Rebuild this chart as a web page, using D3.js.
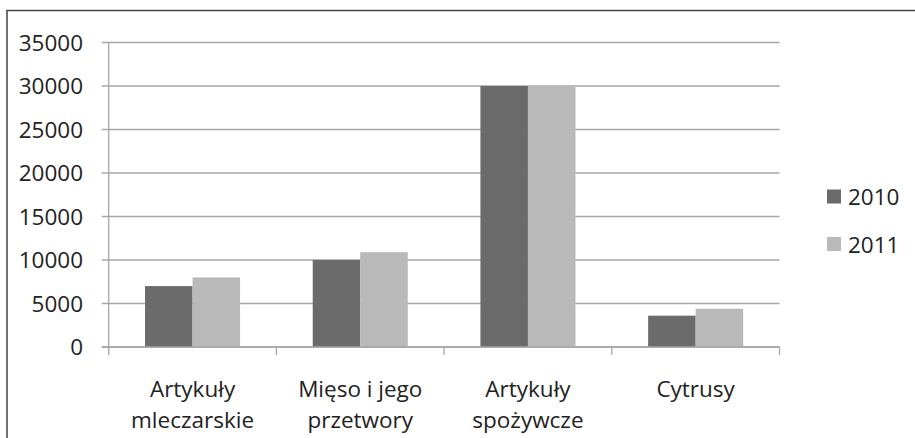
<!doctype html>
<meta charset=utf8>
<title>Artykuły 2010-2011</title>
<style>
  body { margin: 0; background: #fff; }
  svg { display: block; }
  text { font-family: "Open Sans", sans-serif; fill: #222; }
</style>
<svg width=915 height=438></svg>
<script src=https://d3js.org/d3.v7.min.js></script>
<script>
  // data
  var categories = [['Artykuły', 'mleczarskie'], ['Mięso i jego', 'przetwory'], ['Artykuły', 'spożywcze'], ['Cytrusy']];
  var years = ['2010', '2011'];
  var values2010 = [7000, 10000, 30000, 3600];
  var values2011 = [8000, 10900, 30000, 4400];
  var yTicks = [0, 5000, 10000, 15000, 20000, 25000, 30000, 35000];
  var colors = ['#6b6b6b', '#b9b9b9'];

  var svg = d3.select('svg');
  var plotLeft = 108.7, plotRight = 779.5, plotTop = 42.5, plotBottom = 347;
  var fontSize = '22.5px';

  // outer frame (right and bottom sides fall outside the picture)
  svg.append('rect')
    .attr('x', 7).attr('y', 10.5)
    .attr('width', 940).attr('height', 460)
    .attr('fill', 'none').attr('stroke', '#444').attr('stroke-width', 1.5);

  var idx = categories.map(function(d, i) { return i; });
  var x0 = d3.scaleBand().domain(idx).range([plotLeft, plotRight])
    .paddingInner(0.4333).paddingOuter(0.2167);
  var x1 = d3.scaleBand().domain(years).range([0, x0.bandwidth()]);
  var y = d3.scaleLinear().domain([0, 35000]).range([plotBottom, plotTop]);

  // gridlines + y labels
  var g = svg.append('g');
  g.selectAll('line.grid').data(yTicks).enter().append('line')
    .attr('x1', plotLeft - 7).attr('x2', plotRight)
    .attr('y1', function(d) { return y(d); }).attr('y2', function(d) { return y(d); })
    .attr('stroke', '#a6a6a6').attr('stroke-width', 1.3);
  g.selectAll('text.ylab').data(yTicks).enter().append('text')
    .attr('x', 83).attr('y', function(d) { return y(d); })
    .attr('dy', '0.36em')
    .attr('text-anchor', 'end')
    .style('font-size', fontSize)
    .text(function(d) { return d; });

  // y axis line
  svg.append('line')
    .attr('x1', plotLeft).attr('x2', plotLeft).attr('y1', plotTop).attr('y2', plotBottom + 8)
    .attr('stroke', '#a6a6a6').attr('stroke-width', 1.3);

  // category tick marks at band borders
  var borders = idx.map(function(i) { return x0(i) + x0.bandwidth() / 2 + x0.step() / 2; });
  svg.selectAll('line.ctick').data(borders).enter().append('line')
    .attr('x1', function(d) { return d; }).attr('x2', function(d) { return d; })
    .attr('y1', plotBottom).attr('y2', plotBottom + 8)
    .attr('stroke', '#a6a6a6').attr('stroke-width', 1.3);

  // bars
  var series = [values2010, values2011];
  var groups = svg.selectAll('g.cat').data(idx).enter().append('g')
    .attr('transform', function(i) { return 'translate(' + x0(i) + ',0)'; });
  groups.selectAll('rect').data(function(i) {
    return years.map(function(yr, j) { return { year: yr, value: series[j][i], c: colors[j] }; });
  }).enter().append('rect')
    .attr('x', function(d) { return x1(d.year); })
    .attr('width', x1.bandwidth())
    .attr('y', function(d) { return y(d.value); })
    .attr('height', function(d) { return plotBottom - y(d.value); })
    .attr('fill', function(d) { return d.c; });

  // x axis line on top of bars
  svg.append('line')
    .attr('x1', plotLeft - 7).attr('x2', plotRight).attr('y1', plotBottom).attr('y2', plotBottom)
    .attr('stroke', '#a6a6a6').attr('stroke-width', 1.3);

  // category labels
  var labels = svg.selectAll('text.cat').data(idx).enter().append('text')
    .attr('text-anchor', 'middle')
    .style('font-size', fontSize);
  labels.selectAll('tspan').data(function(i) {
    return categories[i].map(function(t) { return { t: t, cx: x0(i) + x0.bandwidth() / 2 }; });
  }).enter().append('tspan')
    .attr('x', function(d) { return d.cx; })
    .attr('y', function(d, k) { return 397 + k * 31; })
    .text(function(d) { return d.t; });

  // legend
  var legend = svg.selectAll('g.leg').data(years).enter().append('g')
    .attr('transform', function(d, j) { return 'translate(827,' + (189.5 + j * 47.5) + ')'; });
  legend.append('rect').attr('width', 14).attr('height', 14)
    .attr('fill', function(d, j) { return colors[j]; });
  legend.append('text').attr('x', 21).attr('y', 15.5)
    .style('font-size', fontSize)
    .text(function(d) { return d; });
</script>
